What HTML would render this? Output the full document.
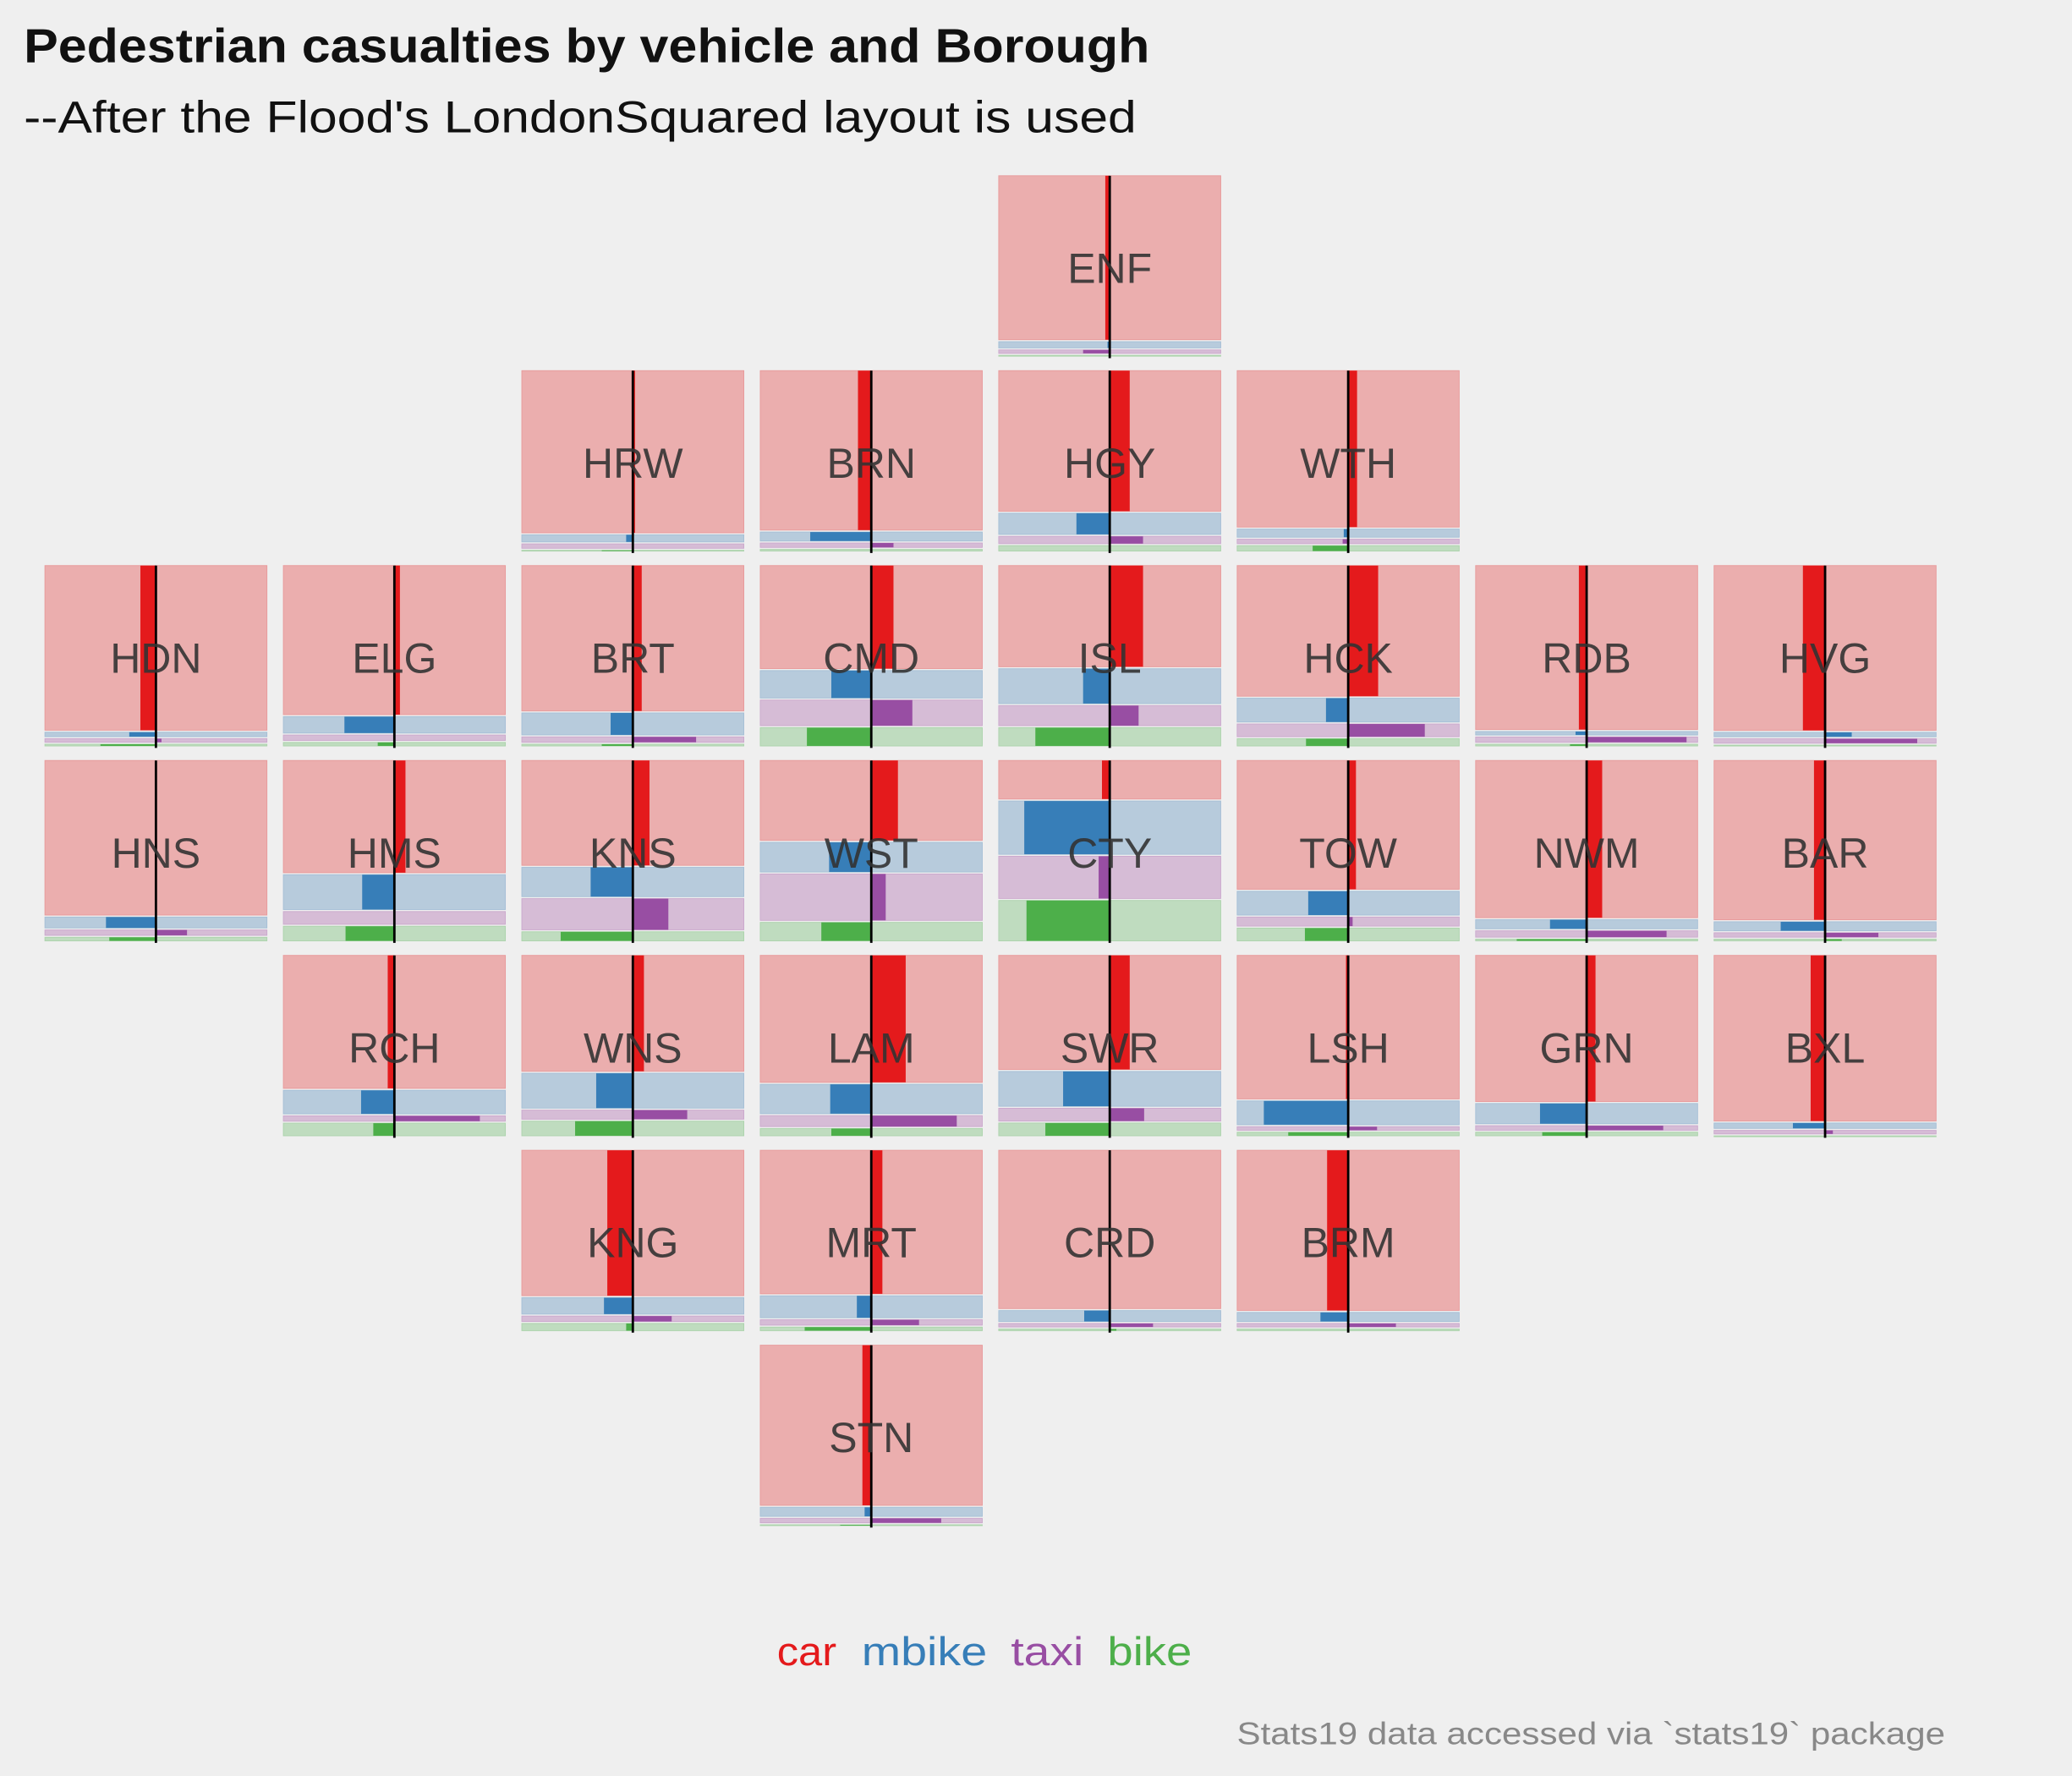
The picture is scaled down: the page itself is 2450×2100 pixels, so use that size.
<!DOCTYPE html>
<html><head><meta charset="utf-8">
<style>
html,body{margin:0;padding:0;background:#efefef;}
svg{display:block;font-family:"Liberation Sans",sans-serif;}
</style></head>
<body>
<svg id="chart" width="2450" height="2100" viewBox="0 0 1568 1344" xmlns="http://www.w3.org/2000/svg">
<rect x="0" y="0" width="1568" height="1344" fill="#efefef"/>
<text x="18" y="47" font-size="36" font-weight="bold" fill="#111" textLength="852" lengthAdjust="spacingAndGlyphs">Pedestrian casualties by vehicle and Borough</text>
<text x="18" y="100" font-size="34" fill="#111" textLength="842" lengthAdjust="spacingAndGlyphs">--After the Flood's LondonSquared layout is used</text>
<g id="tiles"></g>
<g font-size="30">
<text x="588" y="1260" fill="#e41a1c" textLength="45" lengthAdjust="spacingAndGlyphs">car</text>
<text x="652" y="1260" fill="#377eb8" textLength="95" lengthAdjust="spacingAndGlyphs">mbike</text>
<text x="765" y="1260" fill="#984ea3" textLength="55" lengthAdjust="spacingAndGlyphs">taxi</text>
<text x="838" y="1260" fill="#4daf4a" textLength="64" lengthAdjust="spacingAndGlyphs">bike</text>
</g>
<text x="936" y="1320" font-size="24" fill="#888" textLength="536" lengthAdjust="spacingAndGlyphs">Stats19 data accessed via `stats19` package</text>
</svg>
<script>
const boroughs = ["ENF","HRW","BRN","HGY","WTH","HDN","ELG","BRT","CMD","ISL","HCK","RDB","HVG","HNS","HMS","KNS","WST","CTY","TOW","NWM","BAR","RCH","WNS","LAM","SWR","LSH","GRN","BXL","KNG","MRT","CRD","BRM","STN"];
const gridCol = [4,2,3,4,5,0,1,2,3,4,5,6,7,0,1,2,3,4,5,6,7,1,2,3,4,5,6,7,2,3,4,5,3];
const gridRow = [0,1,1,1,1,2,2,2,2,2,2,2,2,3,3,3,3,3,3,3,3,4,4,4,4,4,4,4,5,5,5,5,6];
const shareCar   = [.91,.90,.885,.77,.86,.90,.82,.80,.57,.56,.72,.91,.91,.85,.62,.58,.44,.22,.71,.86,.88,.74,.64,.70,.63,.79,.80,.91,.80,.79,.87,.88,.88];
const shareMbike = [.045,.05,.06,.125,.055,.035,.10,.13,.16,.20,.14,.03,.035,.07,.20,.17,.17,.30,.14,.06,.06,.14,.20,.17,.20,.14,.12,.04,.10,.13,.07,.06,.06];
const shareTaxi  = [.03,.035,.035,.05,.035,.03,.04,.04,.15,.12,.08,.04,.035,.04,.08,.18,.26,.24,.06,.045,.035,.04,.06,.07,.08,.03,.035,.03,.04,.04,.03,.03,.035];
const shareBike  = [.015,.015,.02,.04,.04,.02,.03,.02,.11,.11,.05,.02,.015,.03,.09,.06,.11,.23,.08,.02,.02,.08,.09,.05,.08,.03,.03,.01,.05,.03,.02,.02,.015];
const resCar   = [-.04,.02,-.12,.18,.08,-.14,.05,.08,.20,.30,.27,-.07,-.20,0,.10,.15,.24,-.07,.07,.14,-.10,-.06,.10,.31,.18,-.02,.08,-.13,-.23,.10,0,-.19,-.08];
const resMbike = [-.02,-.06,-.55,-.30,-.04,-.24,-.45,-.20,-.36,-.24,-.20,-.10,.24,-.45,-.29,-.38,-.38,-.77,-.36,-.33,-.40,-.30,-.33,-.37,-.42,-.76,-.42,-.29,-.26,-.13,-.23,-.25,-.06];
const resTaxi  = [-.24,0,.20,.30,-.05,.05,0,.57,.37,.26,.69,.90,.83,.28,0,.32,.13,-.10,.04,.72,.48,.77,.49,.77,.31,.26,.69,.07,.35,.43,.39,.43,.63];
const resBike  = [0,-.28,0,0,-.32,-.5,-.15,-.28,-.58,-.67,-.38,-.15,0,-.42,-.44,-.65,-.45,-.75,-.39,-.63,.15,-.19,-.52,-.36,-.58,-.54,-.4,0,-.06,-.6,.06,0,-.28];

const NS = "http://www.w3.org/2000/svg";
const tileW = 168, tileH = 138, colX0 = 34, colStep = 180.45, rowY0 = 133, rowStep = 147.5;
const xPos = c => colX0 + c * colStep;
const yPos = r => rowY0 + r * rowStep;
const bgCol = ["#ebaeae","#b7cbdc","#d6bcd6","#bfdcbf"];
const fgCol = ["#e41a1c","#377eb8","#984ea3","#4daf4a"];
const edgeCol = ["#e89a9b","#a6bfd6","#cba9cd","#acd3ac"];
const types = ["car","mbike","taxi","bike"];
const tilesG = document.getElementById("tiles");
function mk(tag, attrs){const e=document.createElementNS(NS,tag);for(const k in attrs)e.setAttribute(k,attrs[k]);return e;}

boroughs.forEach((b,i)=>{
  const g = mk("g",{});
  
  
  const x0 = xPos(gridCol[i]), y0 = yPos(gridRow[i]), cx = x0 + tileW/2;
  const shares = [shareCar[i],shareMbike[i],shareTaxi[i],shareBike[i]];
  const res = [resCar[i],resMbike[i],resTaxi[i],resBike[i]];
  const tot = shares.reduce((a,v)=>a+v,0);
  let y = y0;
  shares.forEach((s,k)=>{
    const h = s/tot*tileH;
    const hh = Math.max(h-1.5,0.6);
    const bg = mk("rect",{x:x0,y:y,width:tileW,height:hh,fill:bgCol[k],stroke:edgeCol[k],"stroke-width":0.6});
    
    
    g.appendChild(bg);
    const w = res[k]*tileW/2;
    const bar = mk("rect",{x:Math.min(cx,cx+w),y:y,width:Math.abs(w),height:hh,fill:fgCol[k]});
    
    
    g.appendChild(bar);
    y += h;
  });
  const ln = mk("line",{x1:cx,x2:cx,y1:y0,y2:y0+tileH,stroke:"#000","stroke-width":1.8});
  
  
  g.appendChild(ln);
  const t = mk("text",{x:cx,y:y0+81,"text-anchor":"middle","font-size":32,fill:"#333","fill-opacity":0.9});
  
  
  t.textContent = b;
  g.appendChild(t);
  tilesG.appendChild(g);
});
</script>
</body></html>
